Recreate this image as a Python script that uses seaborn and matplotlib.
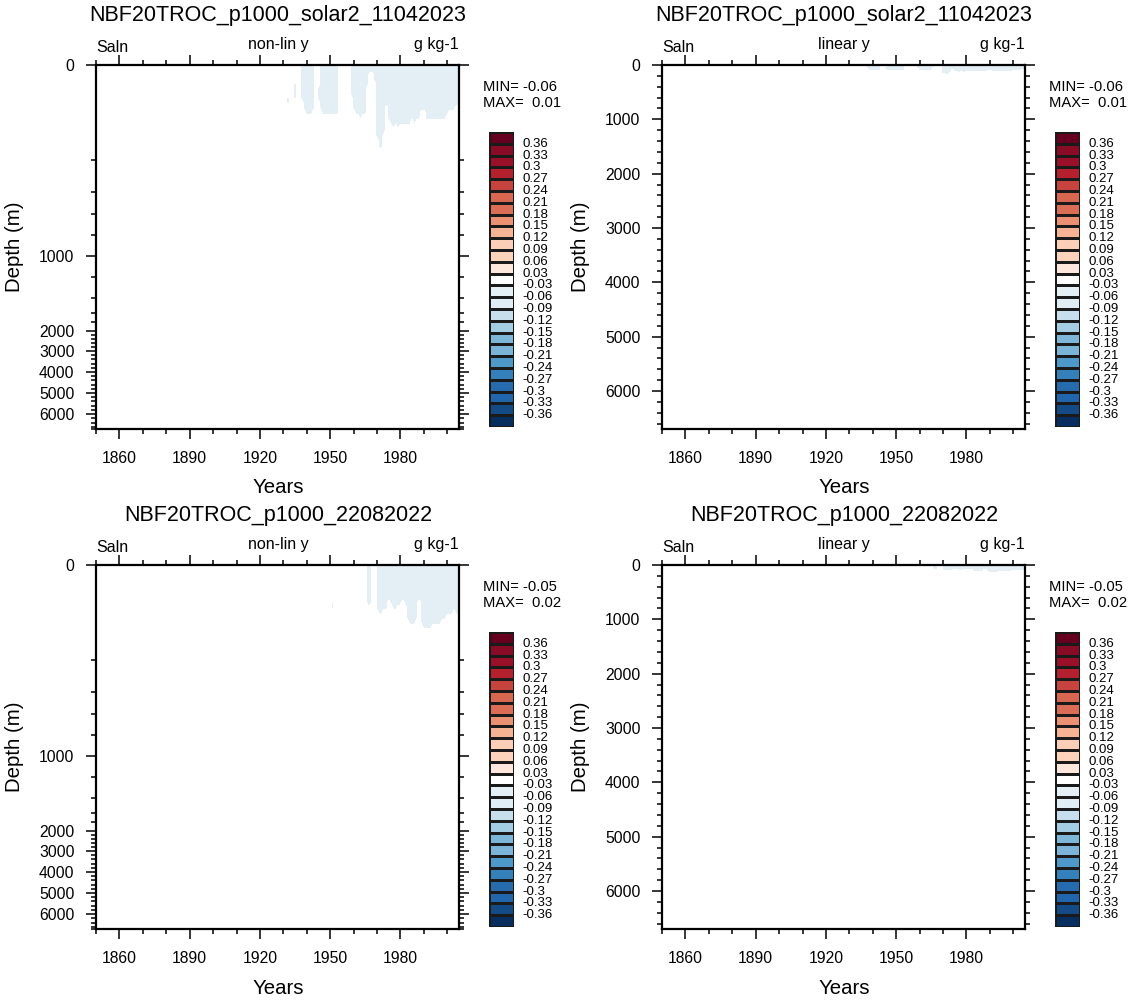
import numpy as np
import seaborn as sns
import matplotlib.pyplot as plt
from matplotlib.colors import ListedColormap
from matplotlib.ticker import MultipleLocator

sns.set_style("white")
plt.rcParams['font.family'] = ['Liberation Sans', 'DejaVu Sans']
plt.rcParams['text.color'] = 'black'
plt.rcParams['xtick.color'] = 'black'
plt.rcParams['ytick.color'] = 'black'
plt.rcParams['axes.labelcolor'] = 'black'

W, H = 1133, 1001

# ---- data ----
titles = ["NBF20TROC_p1000_solar2_11042023", "NBF20TROC_p1000_22082022"]
min_vals = [-0.06, -0.05]
max_vals = [0.01, 0.02]

# depth levels of the field (m)
depth_levels = [0, 10, 20, 30, 40, 50, 60, 70, 80, 90, 100, 110, 120, 130, 140, 150,
                160, 170, 180, 190, 200, 250, 300, 400, 500, 700, 1000, 1500, 2000,
                3000, 4000, 5000, 6000, 6700]
years = list(range(1850, 2006))

# solar2 run: years with a fresh (< -0.03) near-surface patch, patch top / bottom (m)
s2_years = [1932, 1935, 1938, 1939, 1940, 1941, 1942, 1943, 1945, 1946, 1947, 1948,
            1949, 1950, 1951, 1952, 1953, 1959, 1960, 1961, 1962, 1963, 1964, 1965,
            1966, 1967, 1968, 1969, 1970, 1971, 1972, 1973, 1974, 1975, 1976, 1977,
            1978, 1979, 1980, 1981, 1982, 1983, 1984, 1985, 1986, 1987, 1988, 1989,
            1990, 1991, 1992, 1993, 1994, 1995, 1996, 1997, 1998, 1999, 2000, 2001,
            2002, 2003, 2004, 2005]
s2_top = [63, 38, 0, 0, 0, 0, 0, 0, 46, 0, 0, 0,
          0, 0, 0, 0, 0, 0, 0, 0, 0, 0, 0, 0,
          0, 0, 0, 0, 0, 0, 0, 0, 0, 0, 0, 0,
          0, 0, 0, 0, 0, 0, 0, 0, 0, 0, 0, 0,
          0, 0, 0, 0, 0, 0, 0, 0, 0, 0, 0, 0,
          0, 0, 0, 0]
s2_bottom = [80, 74, 74, 95, 103, 105, 100, 95, 78, 90, 100, 105,
             109, 109, 109, 106, 100, 67, 95, 109, 109, 112, 109, 100,
             40, 17, 17, 30, 150, 179, 175, 140, 84, 110, 125, 130,
             128, 130, 128, 125, 122, 120, 122, 118, 120, 118, 110, 95,
             97, 112, 116, 114, 116, 112, 110, 114, 110, 112, 105, 92,
             90, 95, 88, 88]
s2_core = -0.05

# 22082022 run
r2_years = [1951, 1966, 1967, 1970, 1971, 1972, 1973, 1974, 1975, 1976, 1977, 1978,
            1979, 1980, 1981, 1982, 1983, 1984, 1985, 1986, 1987, 1988, 1989, 1990,
            1991, 1992, 1993, 1994, 1995, 1996, 1997, 1998, 1999, 2000, 2001, 2002,
            2003, 2004, 2005]
r2_top = [74] + [0] * 38
r2_bottom = [90, 80, 80, 95, 101, 101, 98, 90, 74, 88, 92, 90,
             85, 80, 78, 82, 110, 120, 122, 122, 118, 74, 125, 134,
             137, 137, 135, 128, 122, 122, 120, 118, 110, 101, 101, 100,
             98, 101, 101]
r2_core = -0.045
background = -0.01

bounds = [-0.36, -0.33, -0.3, -0.27, -0.24, -0.21, -0.18, -0.15, -0.12, -0.09, -0.06, -0.03,
          0.03, 0.06, 0.09, 0.12, 0.15, 0.18, 0.21, 0.24, 0.27, 0.3, 0.33, 0.36]
colors = ['#062f60', '#134b86', '#2166ac', '#256bae', '#3480bb', '#4d99c9', '#7ab5d7',
          '#7cb7d8', '#a3cde3', '#c7dfed', '#e1edf4', '#e3eef5', '#ffffff', '#fde7dc',
          '#fcd2bb', '#fbcfb7', '#f5b393', '#eb9172', '#dc6d55', '#d9674f', '#c6433e',
          '#b5202e', '#9a1029', '#8a0b25', '#67001f']

# non-linear depth axis (level based), depth -> position
nl_depth = [0, 200, 400, 600, 800, 1000, 1200, 1400, 1600, 1800, 2000, 3000, 4000, 5000, 6000, 6700]
nl_pos = [0, 95, 127, 149, 170, 191, 212, 233, 248, 257, 266, 286, 307, 328, 349, 364]


def fwd(d):
    return np.interp(d, nl_depth, nl_pos)


def inv(p):
    return np.interp(p, nl_pos, nl_depth)


def build_field(p_years, p_top, p_bot, core):
    z = np.full((len(depth_levels), len(years)), background)
    d = np.array(depth_levels)
    for yr, t, b in zip(p_years, p_top, p_bot):
        z[(d >= t) & (d <= b), years.index(yr)] = core
    return z


fields = [build_field(s2_years, s2_top, s2_bottom, s2_core),
          build_field(r2_years, r2_top, r2_bottom, r2_core)]

fig = plt.figure(figsize=(W / 100, H / 100), dpi=100)


def ftext(x, y, s, **kw):
    fig.text(x / W, 1 - y / H, s, **kw)


def axes_px(x0, y0, x1, y1):
    return fig.add_axes([x0 / W, 1 - y1 / H, (x1 - x0) / W, (y1 - y0) / H])


levels = [-1.0] + bounds + [1.0]
cmap = ListedColormap(colors)

for row in range(2):
    oy = row * 500
    for col in range(2):
        ox = 0 if col == 0 else 566
        nonlin = col == 0
        ax = axes_px(96 + ox, 65 + oy, 459 + ox, 429 + oy)
        if nonlin:
            ax.set_yscale('function', functions=(fwd, inv))
        ax.contourf(years, depth_levels, fields[row], levels=levels, colors=colors)
        ax.set_xlim(1850, 2005)
        ax.set_ylim(6700, 0)
        ax.set_xticks([1860, 1890, 1920, 1950, 1980])
        ax.xaxis.set_minor_locator(MultipleLocator(10))
        ax.set_yticks([0, 1000, 2000, 3000, 4000, 5000, 6000])
        ax.yaxis.set_minor_locator(MultipleLocator(200))
        ax.tick_params(which='both', direction='out', top=True, right=True,
                       bottom=True, left=True, labelsize=11.3, pad=8.5, width=1.1,
                       color='black', labelcolor='black')
        ax.tick_params(which='major', length=7)
        ax.tick_params(which='minor', length=3.5)
        for sp in ax.spines.values():
            sp.set_linewidth(1.6)
            sp.set_color('black')

        cx = 278 + ox
        ftext(cx, 16 + oy, titles[row], ha='center', va='center', fontsize=15.5)
        ftext(96 + ox, 47 + oy, "Saln", ha='left', va='center', fontsize=11.5)
        ftext(cx, 45 + oy, "non-lin y" if nonlin else "linear y", ha='center',
              va='center', fontsize=11.5)
        ftext(459 + ox, 45 + oy, "g kg-1", ha='right', va='center', fontsize=11.5)
        ftext(cx, 488 + oy, "Years", ha='center', va='center', fontsize=14.7)
        ftext(15 + ox, 247 + oy, "Depth (m)", ha='center', va='center', rotation=90,
              fontsize=14.7)
        ftext(483 + ox, 87 + oy, "MIN= %.2f" % min_vals[row], ha='left', va='center',
              fontsize=10.6)
        ftext(483 + ox, 103 + oy, "MAX=  %.2f" % max_vals[row], ha='left', va='center',
              fontsize=10.6)

        # label bar drawn as a one-column heatmap
        cax = axes_px(489 + ox, 132 + oy, 514 + ox, 427 + oy)
        bar = np.arange(len(colors))[::-1].reshape(-1, 1)
        sns.heatmap(bar, ax=cax, cmap=cmap, vmin=-0.5, vmax=len(colors) - 0.5,
                    cbar=False, linewidths=1.0, linecolor='#1a1a1a',
                    xticklabels=False, yticklabels=False)
        cax.set_yticks(np.arange(1, len(colors)))
        cax.set_yticklabels(["%g" % v for v in bounds[::-1]], fontsize=9.5)
        cax.yaxis.tick_right()
        cax.tick_params(axis='y', length=0, pad=6, right=False, left=False,
                        labelcolor='black')
        for t in cax.get_yticklabels():
            t.set_verticalalignment('center')
            t.set_rotation(0)

fig.savefig("out.png", dpi=100)
